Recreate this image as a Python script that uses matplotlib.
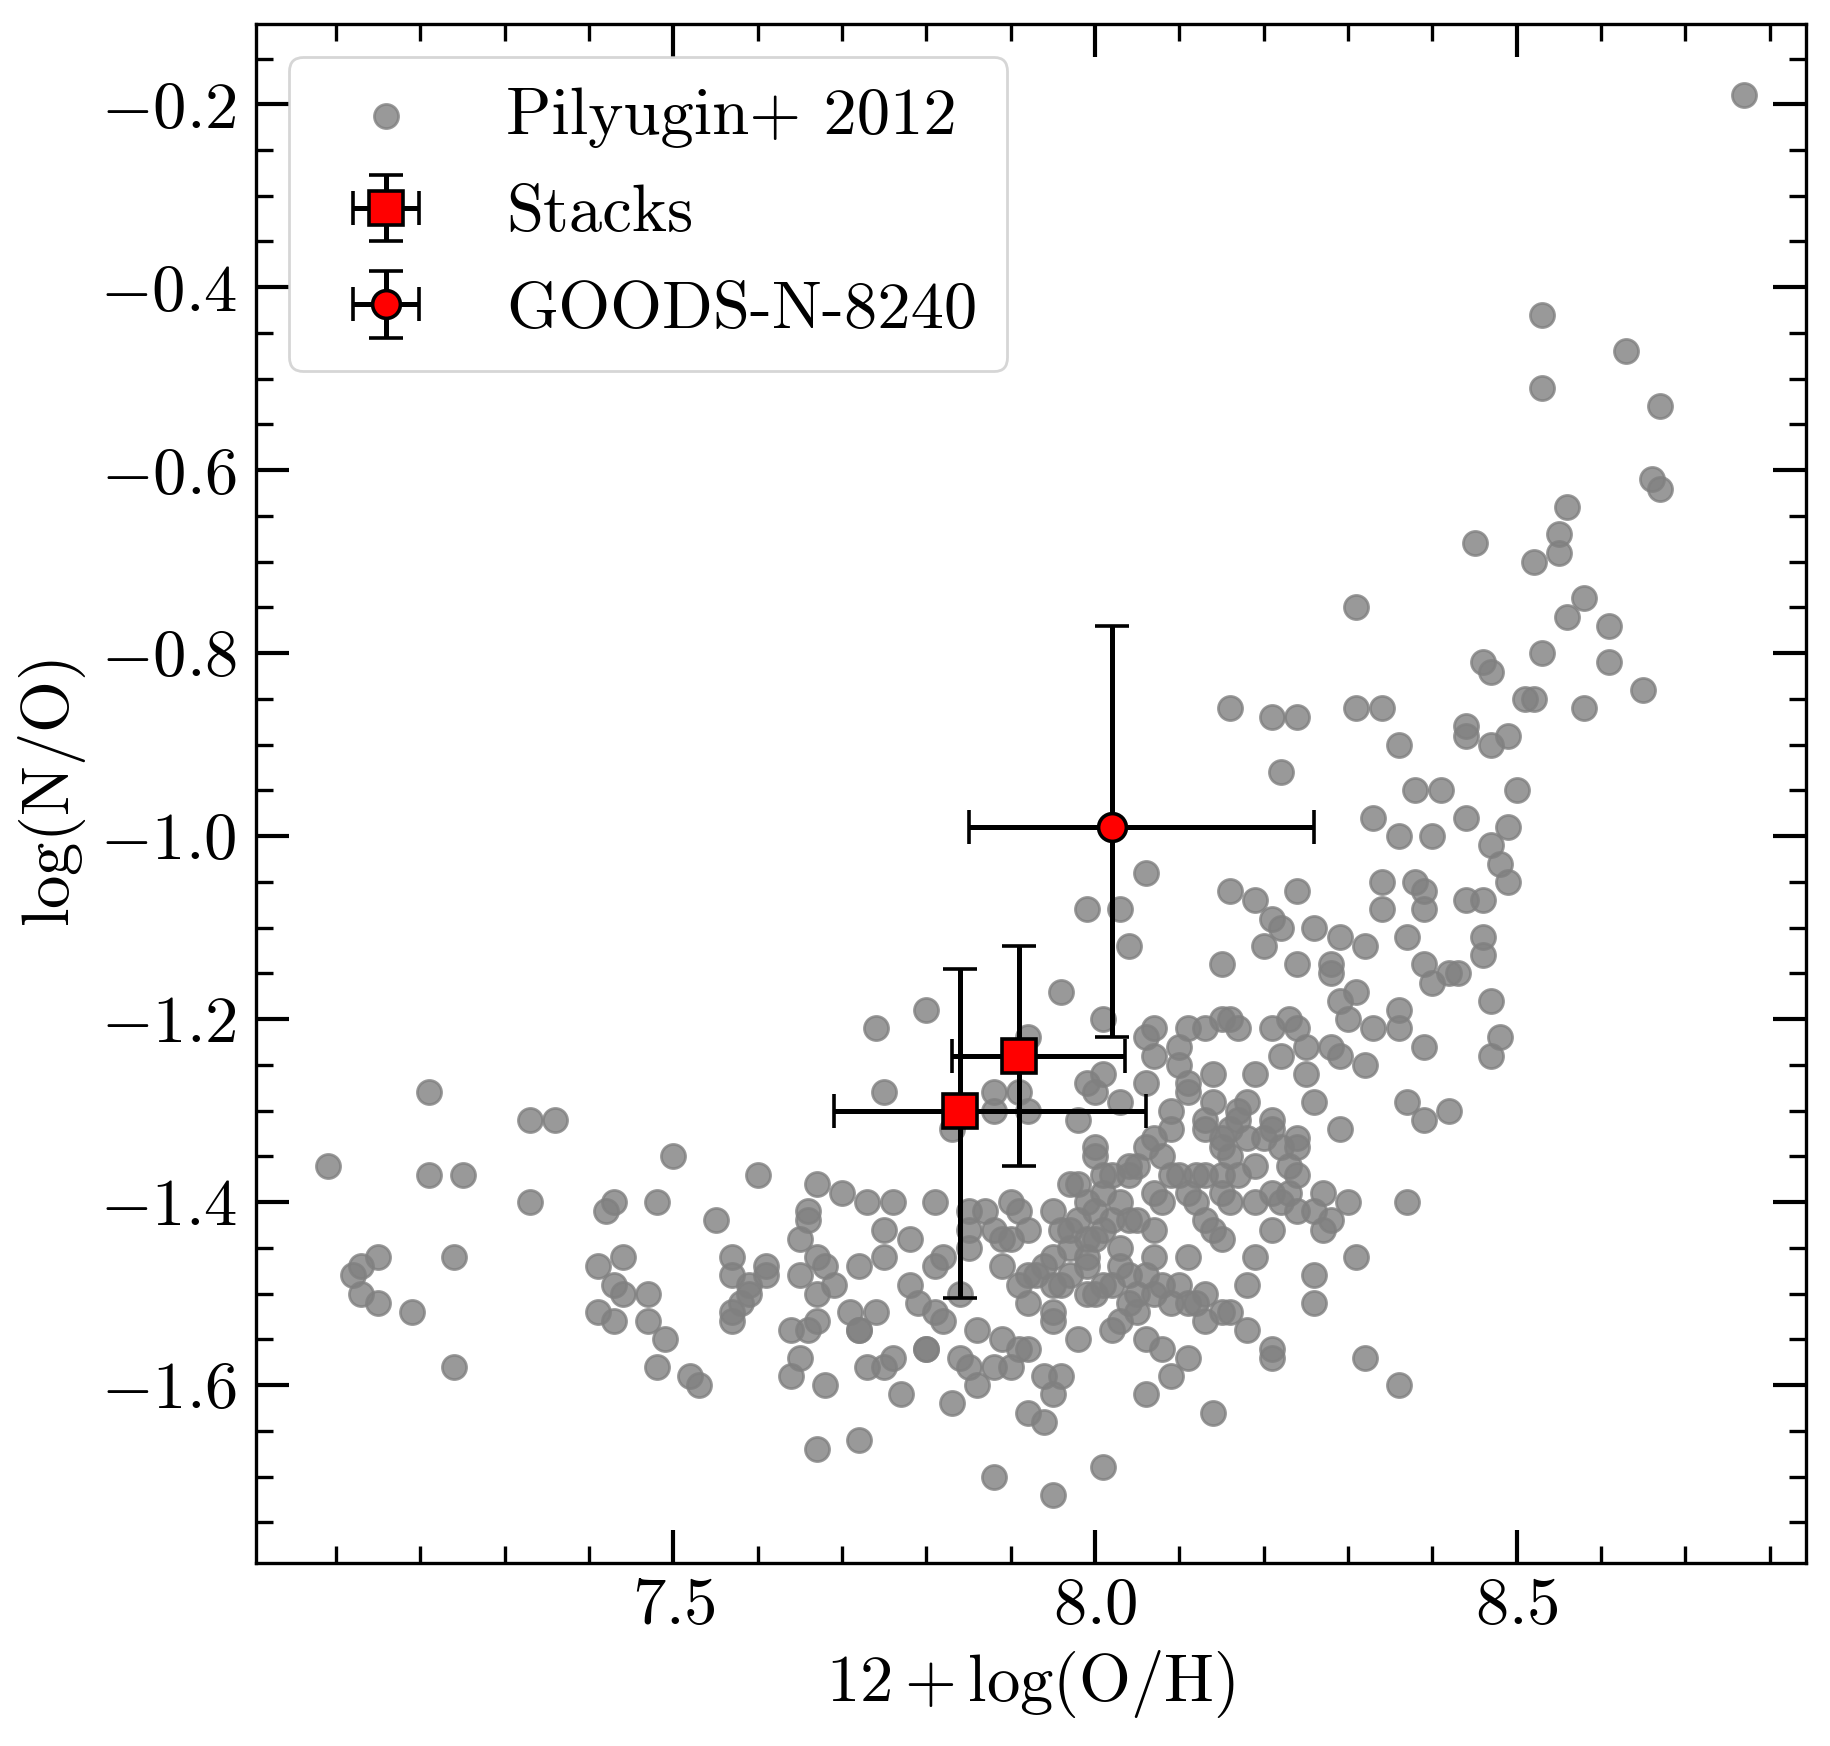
import matplotlib
matplotlib.use("Agg")
import matplotlib.pyplot as plt
import numpy as np
from matplotlib.ticker import MultipleLocator

plt.rcParams["font.family"] = "serif"
plt.rcParams["font.serif"] = ["cmr10"]
plt.rcParams["mathtext.fontset"] = "cm"
plt.rcParams["axes.formatter.use_mathtext"] = True
plt.rcParams["axes.unicode_minus"] = True

# Pilyugin+ 2012 sample: 12+log(O/H), log(N/O)
pil_oh = [
    7.09, 7.12, 7.13, 7.13, 7.15, 7.15, 7.19, 7.21, 7.21, 7.24, 7.24, 7.25, 7.33, 7.33, 7.36,
    7.41, 7.41, 7.42, 7.43, 7.43, 7.43, 7.44, 7.44, 7.47, 7.47, 7.48, 7.48, 7.49, 7.50, 7.52,
    7.53, 7.55, 7.57, 7.57, 7.57, 7.57, 7.58, 7.59, 7.59, 7.60, 7.61, 7.61,
    7.64, 7.64, 7.65, 7.65, 7.65, 7.66, 7.66, 7.67, 7.67, 7.67, 7.67, 7.66, 7.67, 7.68, 7.68,
    7.69, 7.70, 7.71, 7.72, 7.72, 7.72, 7.72, 7.73, 7.73, 7.74, 7.74, 7.75, 7.75, 7.75, 7.75,
    7.76, 7.76, 7.77, 7.78, 7.78, 7.79, 7.80, 7.80, 7.80, 7.81, 7.81, 7.82, 7.81, 7.82, 7.83,
    7.83, 7.84, 7.84, 7.85, 7.85, 7.85, 7.85, 7.86, 7.86, 7.87,
    7.88, 7.88, 7.88, 7.88, 7.88, 7.89, 7.89, 7.89, 7.90, 7.90, 7.90, 7.91, 7.91, 7.91, 7.91,
    7.92, 7.92, 7.92, 7.92, 7.92, 7.92, 7.92, 7.93, 7.94, 7.94, 7.94, 7.95, 7.95, 7.95, 7.95,
    7.95, 7.95, 7.95, 7.96, 7.96, 7.96, 7.96, 7.97, 7.97, 7.97, 7.97, 7.98, 7.98, 7.98, 7.98,
    7.99, 7.99, 7.99, 7.99, 7.99, 7.99, 7.99, 8.00, 8.00, 8.00, 8.00, 8.00, 8.00,
    8.01, 8.01, 8.01, 8.01, 8.01, 8.01, 8.01, 8.02, 8.02, 8.02, 8.02, 8.03, 8.03, 8.03, 8.03,
    8.03, 8.03, 8.04, 8.04, 8.04, 8.04, 8.04, 8.04, 8.05, 8.05, 8.05, 8.05,
    8.06, 8.06, 8.06, 8.06, 8.06, 8.06, 8.06, 8.07, 8.07, 8.07, 8.07, 8.07, 8.07, 8.07,
    8.08, 8.08, 8.08, 8.08, 8.09, 8.09, 8.09, 8.09, 8.09, 8.10, 8.10, 8.10, 8.10,
    8.11, 8.11, 8.11, 8.11, 8.11, 8.11, 8.11, 8.12, 8.12, 8.12, 8.13, 8.13, 8.13, 8.13, 8.13,
    8.13, 8.13, 8.14, 8.14, 8.14, 8.14, 8.15, 8.15, 8.15, 8.15, 8.15, 8.15, 8.15, 8.15,
    8.16, 8.16, 8.16, 8.16, 8.16, 8.16, 8.16, 8.17, 8.17, 8.17, 8.17, 8.18, 8.18, 8.18, 8.18,
    8.19, 8.19, 8.19, 8.19, 8.19, 8.20, 8.20, 8.21, 8.21, 8.21, 8.21, 8.21, 8.21, 8.21, 8.21,
    8.21, 8.22, 8.22, 8.22, 8.22, 8.22, 8.23, 8.23, 8.23, 8.24, 8.24, 8.24, 8.24, 8.24, 8.24,
    8.24, 8.24, 8.25, 8.25,
    8.26, 8.26, 8.26, 8.26, 8.26, 8.27, 8.27, 8.28, 8.28, 8.28, 8.28, 8.29, 8.29, 8.29, 8.29,
    8.30, 8.30, 8.31, 8.31, 8.31, 8.31, 8.32, 8.32, 8.32, 8.33, 8.33, 8.34, 8.34, 8.34,
    8.36, 8.36, 8.36, 8.36, 8.36, 8.37, 8.37, 8.37, 8.38, 8.38, 8.39, 8.39, 8.39, 8.39, 8.39,
    8.40, 8.40, 8.41, 8.42, 8.42, 8.43, 8.44, 8.44, 8.44, 8.44, 8.45,
    8.46, 8.46, 8.46, 8.46, 8.47, 8.47, 8.47, 8.47, 8.47, 8.48, 8.48, 8.49, 8.49, 8.49, 8.50,
    8.51, 8.52, 8.52, 8.53, 8.53, 8.53, 8.55, 8.55, 8.56, 8.56, 8.58, 8.58, 8.61, 8.61, 8.63,
    8.65, 8.66, 8.67, 8.67, 8.77,
]
pil_no = [
    -1.36, -1.48, -1.47, -1.50, -1.46, -1.51, -1.52, -1.28, -1.37, -1.46, -1.58, -1.37, -1.31, -1.40, -1.31,
    -1.47, -1.52, -1.41, -1.40, -1.49, -1.53, -1.46, -1.50, -1.50, -1.53, -1.40, -1.58, -1.55, -1.35, -1.59,
    -1.60, -1.42, -1.46, -1.48, -1.52, -1.53, -1.51, -1.50, -1.49, -1.37, -1.47, -1.48,
    -1.54, -1.59, -1.44, -1.48, -1.57, -1.41, -1.42, -1.38, -1.46, -1.50, -1.53, -1.54, -1.67, -1.47, -1.60,
    -1.49, -1.39, -1.52, -1.54, -1.54, -1.47, -1.66, -1.40, -1.58, -1.21, -1.52, -1.28, -1.43, -1.46, -1.58,
    -1.40, -1.57, -1.61, -1.44, -1.49, -1.51, -1.19, -1.56, -1.56, -1.40, -1.47, -1.46, -1.52, -1.53, -1.62,
    -1.32, -1.50, -1.57, -1.41, -1.43, -1.45, -1.58, -1.54, -1.60, -1.41,
    -1.58, -1.70, -1.43, -1.28, -1.30, -1.44, -1.47, -1.55, -1.40, -1.44, -1.58, -1.41, -1.49, -1.56, -1.28,
    -1.22, -1.30, -1.43, -1.48, -1.51, -1.56, -1.63, -1.48, -1.47, -1.59, -1.64, -1.41, -1.46, -1.49, -1.52,
    -1.53, -1.61, -1.72, -1.17, -1.43, -1.59, -1.49, -1.43, -1.45, -1.48, -1.38, -1.31, -1.38, -1.42, -1.55,
    -1.08, -1.27, -1.40, -1.44, -1.46, -1.47, -1.50, -1.28, -1.34, -1.35, -1.41, -1.44, -1.50,
    -1.20, -1.26, -1.37, -1.39, -1.43, -1.49, -1.69, -1.37, -1.42, -1.49, -1.54, -1.08, -1.29, -1.40, -1.45,
    -1.47, -1.53, -1.12, -1.36, -1.37, -1.42, -1.48, -1.51, -1.36, -1.42, -1.50, -1.52,
    -1.04, -1.22, -1.27, -1.34, -1.48, -1.55, -1.61, -1.21, -1.24, -1.33, -1.39, -1.43, -1.46, -1.50,
    -1.35, -1.40, -1.49, -1.56, -1.30, -1.32, -1.37, -1.51, -1.59, -1.23, -1.25, -1.37, -1.49,
    -1.21, -1.27, -1.28, -1.39, -1.46, -1.51, -1.57, -1.37, -1.40, -1.51, -1.21, -1.31, -1.32, -1.37, -1.42,
    -1.50, -1.53, -1.26, -1.29, -1.43, -1.63, -1.14, -1.20, -1.33, -1.34, -1.37, -1.39, -1.44, -1.52,
    -0.86, -1.06, -1.20, -1.32, -1.35, -1.40, -1.52, -1.21, -1.30, -1.37, -1.31, -1.29, -1.33, -1.49, -1.54,
    -1.07, -1.26, -1.36, -1.40, -1.46, -1.12, -1.33, -0.87, -1.09, -1.21, -1.31, -1.32, -1.39, -1.43, -1.56,
    -1.57, -0.93, -1.10, -1.24, -1.34, -1.40, -1.20, -1.36, -1.39, -0.87, -1.06, -1.14, -1.21, -1.33, -1.34,
    -1.37, -1.41, -1.26, -1.23,
    -1.10, -1.29, -1.41, -1.48, -1.51, -1.39, -1.43, -1.14, -1.15, -1.23, -1.42, -1.11, -1.18, -1.24, -1.32,
    -1.20, -1.40, -0.75, -0.86, -1.17, -1.46, -1.12, -1.25, -1.57, -0.98, -1.21, -0.86, -1.05, -1.08,
    -0.90, -1.00, -1.19, -1.21, -1.60, -1.11, -1.29, -1.40, -0.95, -1.05, -1.06, -1.08, -1.14, -1.23, -1.31,
    -1.00, -1.16, -0.95, -1.15, -1.30, -1.15, -0.88, -0.89, -0.98, -1.07, -0.68,
    -0.81, -1.07, -1.11, -1.13, -0.82, -0.90, -1.01, -1.18, -1.24, -1.03, -1.22, -0.89, -0.99, -1.05, -0.95,
    -0.85, -0.70, -0.85, -0.43, -0.51, -0.80, -0.67, -0.69, -0.64, -0.76, -0.74, -0.86, -0.77, -0.81, -0.47,
    -0.84, -0.61, -0.53, -0.62, -0.19,
]

# stacks
stack_oh = [7.84, 7.91]
stack_no = [-1.30, -1.24]
stack_oh_lo = [0.15, 0.08]
stack_oh_hi = [0.22, 0.125]
stack_no_lo = [0.205, 0.12]
stack_no_hi = [0.155, 0.12]

# GOODS-N-8240
gn_oh = [8.02]
gn_no = [-0.99]
gn_oh_lo = [0.17]
gn_oh_hi = [0.24]
gn_no_lo = [0.23]
gn_no_hi = [0.22]

fig = plt.figure(figsize=(9.155, 8.73), dpi=200)
ax = fig.add_axes([0.1398, 0.1046, 0.8465, 0.8817])

ax.scatter(pil_oh, pil_no, s=75, color="grey", alpha=0.8, lw=1, label="Pilyugin+ 2012", zorder=1)
ax.errorbar(stack_oh, stack_no, xerr=[stack_oh_lo, stack_oh_hi], yerr=[stack_no_lo, stack_no_hi],
            fmt="s", color="red", mec="black", mew=1.3, ms=12.5, ecolor="black", elinewidth=1.8,
            capsize=6.2, capthick=1.8, label="Stacks", zorder=3)
ax.errorbar(gn_oh, gn_no, xerr=[gn_oh_lo, gn_oh_hi], yerr=[gn_no_lo, gn_no_hi],
            fmt="o", color="red", mec="black", mew=1.3, ms=10, ecolor="black", elinewidth=1.8,
            capsize=6.2, capthick=1.8, label="GOODS-N-8240", zorder=3)

ax.set_xlim(7.005, 8.843)
ax.set_ylim(-1.7948, -0.1122)
ax.xaxis.set_major_locator(MultipleLocator(0.5))
ax.xaxis.set_minor_locator(MultipleLocator(0.1))
ax.yaxis.set_major_locator(MultipleLocator(0.2))
ax.yaxis.set_minor_locator(MultipleLocator(0.05))
ax.tick_params(which="both", direction="in", top=True, right=True, labelsize=24)
ax.tick_params(which="major", length=12, width=1.5)
ax.tick_params(which="minor", length=6, width=1.2)
ax.tick_params(axis="y", which="both", pad=7)
ax.tick_params(axis="x", which="both", pad=5)
for sp in ax.spines.values():
    sp.set_linewidth(1.2)

ax.set_xlabel(r"$12 + \log({\rm O/H})$", fontsize=24)
ax.set_ylabel(r"$\log({\rm N/O})$", fontsize=24)

ax.legend(loc="upper left", fontsize=24, labelspacing=0.55, borderpad=0.45)

fig.savefig("out.png", dpi=200)
